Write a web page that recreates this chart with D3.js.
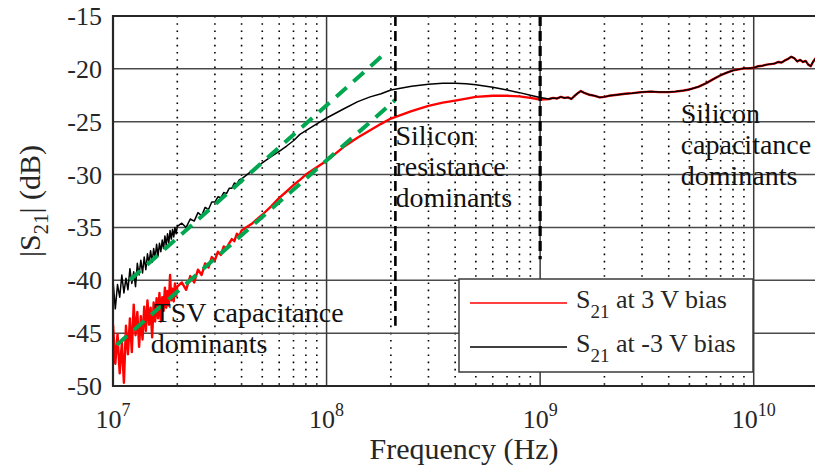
<!DOCTYPE html>
<html>
<head>
<meta charset="utf-8">
<script src="https://cdnjs.cloudflare.com/ajax/libs/d3/7.8.5/d3.min.js"></script>
<style>
  body { margin: 0; }
</style>
</head>
<body>
<script>
// measured S21, 3 V bias (red), Hz / dB
const redFreq = [
  1.000e7, 1.025e7, 1.050e7, 1.075e7, 1.100e7, 1.125e7, 1.150e7, 1.175e7, 1.200e7, 1.225e7,
  1.250e7, 1.275e7, 1.300e7, 1.325e7, 1.350e7, 1.375e7, 1.400e7, 1.425e7, 1.450e7, 1.475e7,
  1.500e7, 1.525e7, 1.550e7, 1.575e7, 1.600e7, 1.625e7, 1.650e7, 1.675e7, 1.700e7, 1.725e7,
  1.750e7, 1.775e7, 1.800e7, 1.825e7, 1.850e7, 1.875e7, 1.900e7, 1.925e7, 1.950e7, 1.975e7,
  2.000e7, 2.1e7, 2.2e7, 2.3e7, 2.4e7, 2.5e7, 2.6e7, 2.7e7, 2.8e7, 2.9e7,
  3.0e7, 3.1e7, 3.2e7, 3.3e7, 3.4e7, 3.5e7, 3.6e7, 3.7e7, 3.8e7, 3.9e7,
  4.0e7, 4.5e7, 5.0e7, 5.5e7, 6.0e7, 6.5e7, 7.0e7, 7.5e7, 8.0e7, 9.0e7,
  1.0e8, 1.2e8, 1.4e8, 1.6e8, 1.8e8, 2.0e8, 2.5e8, 3.0e8, 3.5e8, 4.0e8,
  5.0e8, 6.0e8, 7.0e8, 8.0e8, 9.0e8, 1.0e9
];
const redDb = [
  -44.2, -47.9, -45.1, -48.8, -45.9, -49.7, -44.3, -47.0, -43.6, -46.8,
  -42.3, -45.2, -43.0, -46.3, -43.4, -45.6, -42.5, -44.8, -41.9, -44.2,
  -42.6, -45.4, -42.1, -43.9, -41.7, -43.6, -41.2, -43.9, -41.6, -42.9,
  -40.7, -42.6, -41.0, -42.4, -39.5, -41.9, -40.8, -42.0, -40.3, -41.5,
  -40.6, -40.2, -40.9, -39.6, -40.2, -39.0, -39.5, -38.4, -38.8, -37.8,
  -38.1, -37.3, -37.6, -36.8, -37.0, -36.5, -36.1, -36.3, -35.6, -35.8,
  -35.3, -34.6, -33.8, -33.0, -32.2, -31.6, -31.0, -30.5, -30.0, -29.3,
  -28.7, -27.4, -26.5, -25.8, -25.2, -24.7, -24.0, -23.5, -23.2, -23.0,
  -22.65, -22.55, -22.55, -22.6, -22.75, -22.9
];

// measured S21, -3 V bias (black)
const blackFreq = [
  1.000e7, 1.025e7, 1.050e7, 1.075e7, 1.100e7, 1.125e7, 1.150e7, 1.175e7, 1.200e7, 1.225e7,
  1.250e7, 1.275e7, 1.300e7, 1.325e7, 1.350e7, 1.375e7, 1.400e7, 1.425e7, 1.450e7, 1.475e7,
  1.500e7, 1.525e7, 1.550e7, 1.575e7, 1.600e7, 1.625e7, 1.650e7, 1.675e7, 1.700e7, 1.725e7,
  1.750e7, 1.775e7, 1.800e7, 1.825e7, 1.850e7, 1.875e7, 1.900e7, 1.925e7, 1.950e7, 1.975e7,
  2.000e7, 2.1e7, 2.2e7, 2.3e7, 2.4e7, 2.5e7, 2.6e7, 2.7e7, 2.8e7, 2.9e7,
  3.0e7, 3.1e7, 3.2e7, 3.3e7, 3.4e7, 3.5e7, 3.6e7, 3.7e7, 3.8e7, 3.9e7,
  4.0e7, 4.5e7, 5.0e7, 5.5e7, 6.0e7, 6.5e7, 7.0e7, 7.5e7, 8.0e7, 9.0e7,
  1.0e8, 1.2e8, 1.4e8, 1.6e8, 1.8e8, 2.0e8, 2.5e8, 3.0e8, 3.5e8, 4.0e8,
  4.5e8, 5.0e8, 6.0e8, 7.0e8, 8.0e8, 9.0e8, 1.0e9
];
const blackDb = [
  -40.0, -42.7, -40.4, -41.6, -39.5, -41.2, -39.8, -40.9, -38.9, -40.3,
  -39.2, -40.6, -38.4, -39.5, -38.1, -39.3, -37.8, -39.0, -37.5, -38.4,
  -37.2, -38.3, -37.0, -37.9, -36.6, -37.7, -36.5, -37.3, -36.2, -37.0,
  -35.8, -36.7, -35.6, -36.5, -35.3, -36.1, -35.2, -35.9, -35.0, -35.6,
  -34.9, -34.6, -35.0, -34.2, -34.4, -33.6, -33.9, -33.1, -33.3, -32.6,
  -32.6, -32.1, -32.2, -31.7, -31.8, -31.3, -31.3, -30.8, -30.9, -30.5,
  -30.4, -29.6, -28.9, -28.3, -27.8, -27.3, -26.8, -26.2, -25.85, -25.2,
  -24.65, -23.8, -23.1, -22.65, -22.35, -22.0, -21.65, -21.45, -21.35, -21.35,
  -21.4, -21.5, -21.75, -22.0, -22.25, -22.5, -22.7
];

// above 1 GHz both bias curves coincide
const sharedFreq = [
  1.1e9, 1.15e9, 1.2e9, 1.25e9, 1.3e9, 1.35e9, 1.4e9, 1.45e9, 1.5e9, 1.55e9,
  1.6e9, 1.7e9, 1.8e9, 1.9e9, 2.0e9, 2.1e9, 2.3e9, 2.5e9, 2.7e9, 3.0e9,
  3.3e9, 3.6e9, 4.0e9, 4.3e9, 4.7e9, 5.0e9, 5.5e9, 6.0e9, 6.5e9, 7.0e9,
  7.5e9, 8.0e9, 8.5e9, 9.0e9, 9.5e9, 1.0e10, 1.05e10, 1.1e10, 1.15e10, 1.2e10,
  1.25e10, 1.3e10, 1.35e10, 1.4e10, 1.45e10, 1.5e10, 1.55e10, 1.6e10, 1.65e10, 1.7e10,
  1.75e10, 1.8e10, 1.85e10, 1.9e10, 1.95e10, 2.0e10
];
const sharedDb = [
  -22.85, -22.75, -22.8, -22.65, -22.75, -22.7, -22.85, -22.55, -22.3, -22.1,
  -22.25, -22.45, -22.55, -22.7, -22.65, -22.55, -22.45, -22.35, -22.3, -22.2,
  -22.15, -22.2, -22.2, -22.15, -22.05, -21.95, -21.7, -21.35, -20.95, -20.6,
  -20.35, -20.15, -20.05, -19.95, -19.95, -19.9, -19.75, -19.7, -19.6, -19.55,
  -19.5, -19.35, -19.4, -19.2, -19.05, -18.85, -19.0, -19.3, -19.15, -19.35,
  -19.25, -19.6, -19.75, -19.3, -19.0, -18.9
];

// fitted asymptotes (green dashed)
const fitUpperFreq = [1.2e7, 1.915e8];
const fitUpperDb = [-39.98, -18.38];
const fitLowerFreq = [1.04e7, 2.094e8];
const fitLowerDb = [-46.13, -22.95];

// region boundaries (black dashed)
const boundaryFreq = [2.1e8, 1.0e9];
const boundaryBottomDb = [-44.3, -38.0];

const yTicks = [-50, -45, -40, -35, -30, -25, -20, -15];
const xDecades = [7, 8, 9, 10];

const labelsRegion = [
  {lines: ['Silicon', 'resistance', 'dominants'], f: 2.1e8, db: -27.2},
  {lines: ['Silicon', 'capacitance', 'dominants'], f: 4.55e9, db: -25.1},
  {lines: ['TSV capacitance', 'dominants'], f: 1.55e7, db: -43.9}
];
const legendItems = [
  {name: ' at 3 V bias', color: '#ff0000'},
  {name: ' at -3 V bias', color: '#000000'}
];

const W = 815, H = 472;
const margin = {left: 113, top: 16, right: -3, bottom: 86};
const FONT = "'Liberation Serif'";

const svg = d3.select('body').append('svg')
  .attr('width', W).attr('height', H);

const x = d3.scaleLog().domain([1e7, 2e10]).range([margin.left, W - margin.right]);
const y = d3.scaleLinear().domain([-50, -15]).range([H - margin.bottom, margin.top]);

const textColor = '#262626';

function addText(parent, size) {
  return parent.append('text')
    .style('font-family', FONT)
    .attr('font-size', size);
}

// clip to plot box
svg.append('clipPath').attr('id', 'plotclip')
  .append('rect')
  .attr('x', x.range()[0]).attr('y', y.range()[1])
  .attr('width', x.range()[1] - x.range()[0])
  .attr('height', y.range()[0] - y.range()[1]);

const grid = svg.append('g');

// minor grid (dotted)
let minor = [];
xDecades.forEach(function (d) {
  for (let m = 2; m <= 9; m++) {
    const v = m * Math.pow(10, d);
    if (v < x.domain()[1]) minor.push(v);
  }
});
grid.selectAll('.minor').data(minor).enter().append('line')
  .attr('x1', d => x(d)).attr('x2', d => x(d))
  .attr('y1', y(-15)).attr('y2', y(-50))
  .attr('stroke', '#000').attr('stroke-width', 1.6)
  .attr('stroke-dasharray', '1.6,5.6');

// major grid
grid.selectAll('.hmaj').data(yTicks).enter().append('line')
  .attr('x1', x.range()[0]).attr('x2', x.range()[1])
  .attr('y1', d => y(d)).attr('y2', d => y(d))
  .attr('stroke', '#4a4a4a').attr('stroke-width', 1.5);
grid.selectAll('.vmaj').data(xDecades.slice(1)).enter().append('line')
  .attr('x1', d => x(Math.pow(10, d))).attr('x2', d => x(Math.pow(10, d)))
  .attr('y1', y(-15)).attr('y2', y(-50))
  .attr('stroke', '#3a3a3a').attr('stroke-width', 1.5);

// curves
const line = d3.line().x(d => x(d[0])).y(d => y(d[1]));
const plot = svg.append('g').attr('clip-path', 'url(#plotclip)');

const redPts = d3.zip(redFreq, redDb).concat(d3.zip(sharedFreq, sharedDb));
const blackPts = d3.zip(blackFreq, blackDb).concat(d3.zip(sharedFreq, sharedDb));

plot.append('path').datum(redPts)
  .attr('d', line).attr('fill', 'none')
  .attr('stroke', '#ff0000').attr('stroke-width', 2.4).attr('stroke-linejoin', 'round');
plot.append('path').datum(blackPts)
  .attr('d', line).attr('fill', 'none')
  .attr('stroke', '#000').attr('stroke-width', 1.5).attr('stroke-linejoin', 'round');

// green fitted lines
[[fitUpperFreq, fitUpperDb], [fitLowerFreq, fitLowerDb]].forEach(function (p) {
  plot.append('path').datum(d3.zip(p[0], p[1]))
    .attr('d', line).attr('fill', 'none')
    .attr('stroke', '#00a650').attr('stroke-width', 4)
    .attr('stroke-dasharray', '14,9');
});

// dashed boundaries
boundaryFreq.forEach(function (f, i) {
  plot.append('line')
    .attr('x1', x(f)).attr('x2', x(f))
    .attr('y1', y(-15)).attr('y2', y(boundaryBottomDb[i]))
    .attr('stroke', '#000').attr('stroke-width', i === 0 ? 2.6 : 3.2)
    .attr('stroke-dasharray', '10,5');
});

// frame
svg.append('path')
  .attr('d', 'M' + x.range()[1] + ',' + y(-15) + 'H' + x.range()[0] + 'V' + y(-50) + 'H' + x.range()[1])
  .attr('fill', 'none').attr('stroke', '#262626').attr('stroke-width', 2.2);

// y tick labels
yTicks.forEach(function (d) {
  addText(svg, 26)
    .attr('x', 102).attr('y', y(d) + 9)
    .attr('text-anchor', 'end')
    .attr('fill', textColor)
    .text(d);
});

// x tick labels 10^n
xDecades.forEach(function (d) {
  const t = addText(svg, 26)
    .attr('x', x(Math.pow(10, d)))
    .attr('y', 428)
    .attr('text-anchor', 'middle')
    .attr('fill', textColor);
  t.append('tspan').text('10');
  t.append('tspan').attr('font-size', 18).attr('dy', -12).text(d);
});

// axis titles
addText(svg, 30)
  .attr('x', 464).attr('y', 459)
  .attr('text-anchor', 'middle')
  .attr('fill', textColor)
  .text('Frequency (Hz)');

const yt = addText(svg, 30)
  .attr('transform', 'translate(40,' + ((y(-15) + y(-50)) / 2) + ') rotate(-90)')
  .attr('text-anchor', 'middle')
  .attr('fill', textColor);
yt.append('tspan').text('|S');
yt.append('tspan').attr('font-size', 21).attr('dy', 8).text('21');
yt.append('tspan').attr('dy', -8).text('| (dB)');

// region annotations
labelsRegion.forEach(function (lab) {
  const t = addText(svg, 28).attr('fill', '#111');
  lab.lines.forEach(function (s, i) {
    t.append('tspan')
      .attr('x', x(lab.f) + (i === 1 && lab.lines.length === 2 ? -3 : 0))
      .attr('y', y(lab.db) + i * 31)
      .text(s);
  });
});

// legend
const lg = svg.append('g');
lg.append('rect')
  .attr('x', 459).attr('y', 279).attr('width', 294).attr('height', 93)
  .attr('fill', '#fff').attr('stroke', '#3a3a3a').attr('stroke-width', 1.5);
legendItems.forEach(function (it, i) {
  const ly = 303 + i * 44;
  lg.append('line')
    .attr('x1', 470).attr('x2', 567).attr('y1', ly).attr('y2', ly)
    .attr('stroke', it.color).attr('stroke-width', 1.6);
  const t = addText(lg, 26)
    .attr('x', 576).attr('y', ly + 5)
    .attr('fill', textColor);
  t.append('tspan').text('S');
  t.append('tspan').attr('font-size', 19).attr('dy', 10).text('21');
  t.append('tspan').attr('dy', -10).text(it.name);
});
</script>
</body>
</html>
